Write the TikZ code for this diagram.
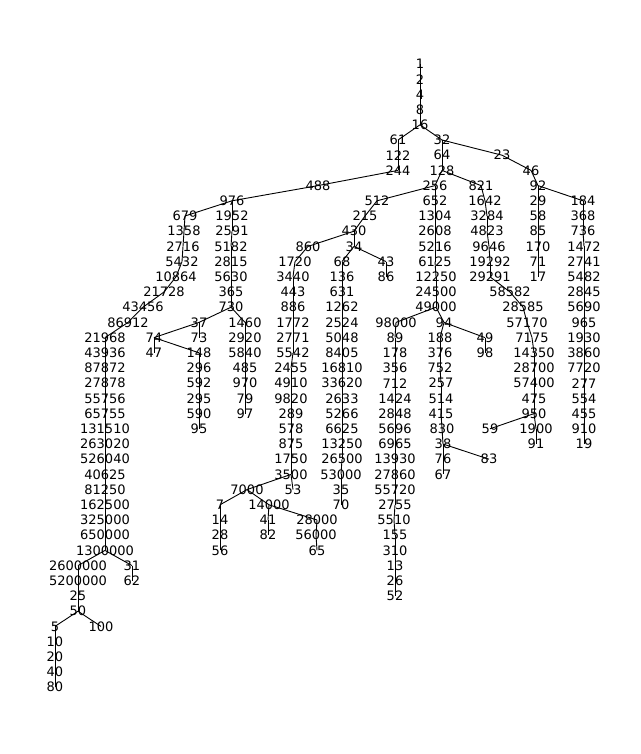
\documentclass[tikz,border=0pt]{standalone}
\usepackage{fontspec}
\setmainfont{DejaVu Sans}
\begin{document}
\begin{tikzpicture}[x=1pt,y=1pt,lbl/.style={inner sep=0pt,font=\fontsize{13}{13}\selectfont},edge/.style={line width=0.9pt}]
\useasboundingbox (0,0) rectangle (640,-754);
\def\N#1#2#3{\node[lbl] (n#3) at (#1,{-(64+15.2*#2)}) {#3};}
% level nodes: x level text
\foreach \x/\l/\t in {
420/0/1,420/1/2,420/2/4,420/3/8,420/4/16,
398/5/61,442/5/32,
398/6/122,442/6/64,502/6/23,
398/7/244,442/7/128,531/7/46,
318/8/488,435/8/256,481/8/821,538/8/92,
232/9/976,377/9/512,435/9/652,485/9/1642,538/9/29,583/9/184,
185/10/679,232/10/1952,365/10/215,435/10/1304,487/10/3284,538/10/58,583/10/368,
184/11/1358,232/11/2591,354/11/430,435/11/2608,487/11/4823,538/11/85,583/11/736,
183/12/2716,231/12/5182,308/12/860,354/12/34,435/12/5216,489/12/9646,538/12/170,584/12/1472,
182/13/5432,231/13/2815,295/13/1720,342/13/68,386/13/43,435/13/6125,490/13/19292,538/13/71,584/13/2741,
176/14/10864,231/14/5630,293/14/3440,342/14/136,386/14/86,436/14/12250,490/14/29291,538/14/17,584/14/5482,
164/15/21728,231/15/365,293/15/443,342/15/631,436/15/24500,510/15/58582,584/15/2845,
143/16/43456,231/16/730,293/16/886,342/16/1262,436/16/49000,523/16/28585,584/16/5690,
128/17/86912,199/17/37,245/17/1460,293/17/1772,342/17/2524,396/17/98000,444/17/94,527/17/57170,584/17/965,
105/18/21968,154/18/74,199/18/73,245/18/2920,293/18/2771,342/18/5048,395/18/89,440/18/188,485/18/49,532/18/7175,584/18/1930,
105/19/43936,154/19/47,199/19/148,245/19/5840,293/19/5542,342/19/8405,395/19/178,440/19/376,485/19/98,534/19/14350,584/19/3860,
105/20/87872,199/20/296,245/20/485,291/20/2455,342/20/16810,395/20/356,440/20/752,534/20/28700,584/20/7720,
105/21/27878,199/21/592,245/21/970,291/21/4910,342/21/33620,395/21/712,441/21/257,534/21/57400,584/21/277,
105/22/55756,199/22/295,245/22/79,291/22/9820,342/22/2633,395/22/1424,441/22/514,534/22/475,584/22/554,
105/23/65755,199/23/590,245/23/97,291/23/289,342/23/5266,395/23/2848,441/23/415,534/23/950,584/23/455,
105/24/131510,199/24/95,291/24/578,342/24/6625,395/24/5696,442/24/830,490/24/59,536/24/1900,584/24/910,
105/25/263020,291/25/875,342/25/13250,395/25/6965,443/25/38,536/25/91,584/25/19,
105/26/526040,291/26/1750,342/26/26500,395/26/13930,443/26/76,489/26/83,
105/27/40625,291/27/3500,341/27/53000,395/27/27860,443/27/67,
105/28/81250,247/28/7000,293/28/53,341/28/35,395/28/55720,
105/29/162500,220/29/7,269/29/14000,341/29/70,395/29/2755,
105/30/325000,220/30/14,268/30/41,317/30/28000,394/30/5510,
105/31/650000,220/31/28,268/31/82,316/31/56000,395/31/155,
105/32/1300000,220/32/56,317/32/65,395/32/310,
78/33/2600000,132/33/31,395/33/13,
78/34/5200000,132/34/62,395/34/26,
78/35/25,395/35/52,
78/36/50,
55/37/5,101/37/100,
55/38/10,55/39/20,55/40/40,55/41/80}
{\N{\x}{\l}{\t}}
\foreach \a/\b in {
1/2,2/4,4/8,8/16,16/61,16/32,61/122,122/244,244/488,32/64,64/128,32/23,23/46,46/92,92/184,92/29,
128/256,128/821,256/512,512/215,215/430,430/860,430/34,34/68,34/43,43/86,
488/976,976/679,679/1358,1358/2716,2716/5432,5432/10864,10864/21728,21728/43456,43456/86912,86912/21968,
21968/43936,43936/87872,87872/27878,27878/55756,55756/65755,65755/131510,131510/263020,263020/526040,526040/40625,
40625/81250,81250/162500,162500/325000,325000/650000,650000/1300000,1300000/2600000,1300000/31,31/62,
2600000/5200000,5200000/25,25/50,50/5,50/100,5/10,10/20,20/40,40/80,
976/1952,1952/2591,2591/5182,5182/2815,2815/5630,5630/365,365/730,730/37,730/1460,37/73,37/74,74/47,74/148,
148/296,296/592,592/295,295/590,590/95,
1460/2920,2920/5840,5840/485,485/970,970/79,79/97,
860/1720,1720/3440,3440/443,443/886,886/1772,1772/2771,2771/5542,5542/2455,2455/4910,4910/9820,9820/289,289/578,
578/875,875/1750,1750/3500,3500/7000,3500/53,7000/7,7000/14000,7/14,14/28,28/56,14000/41,41/82,14000/28000,28000/56000,56000/65,
68/136,136/631,631/1262,1262/2524,2524/5048,5048/8405,8405/16810,16810/33620,33620/2633,2633/5266,5266/6625,6625/13250,
13250/26500,26500/53000,53000/35,35/70,
256/652,652/1304,1304/2608,2608/5216,5216/6125,6125/12250,12250/24500,24500/49000,49000/98000,49000/94,
98000/89,89/178,178/356,356/712,712/1424,1424/2848,2848/5696,5696/6965,6965/13930,13930/27860,27860/55720,55720/2755,
2755/5510,5510/155,155/310,310/13,13/26,26/52,
94/188,188/376,376/752,752/257,257/514,514/415,415/830,830/38,38/76,76/67,38/83,94/49,49/98,
821/1642,1642/3284,3284/4823,4823/9646,9646/19292,19292/29291,29291/58582,58582/28585,28585/57170,57170/7175,7175/14350,
14350/28700,28700/57400,57400/475,475/950,950/1900,1900/91,950/59,
29/58,58/85,85/170,170/71,71/17,
184/368,368/736,736/1472,1472/2741,2741/5482,5482/2845,2845/5690,5690/965,965/1930,1930/3860,3860/7720,7720/277,277/554,554/455,455/910,910/19}
{\draw[edge] (n\a.center) -- (n\b.center);}
\end{tikzpicture}
\end{document}
